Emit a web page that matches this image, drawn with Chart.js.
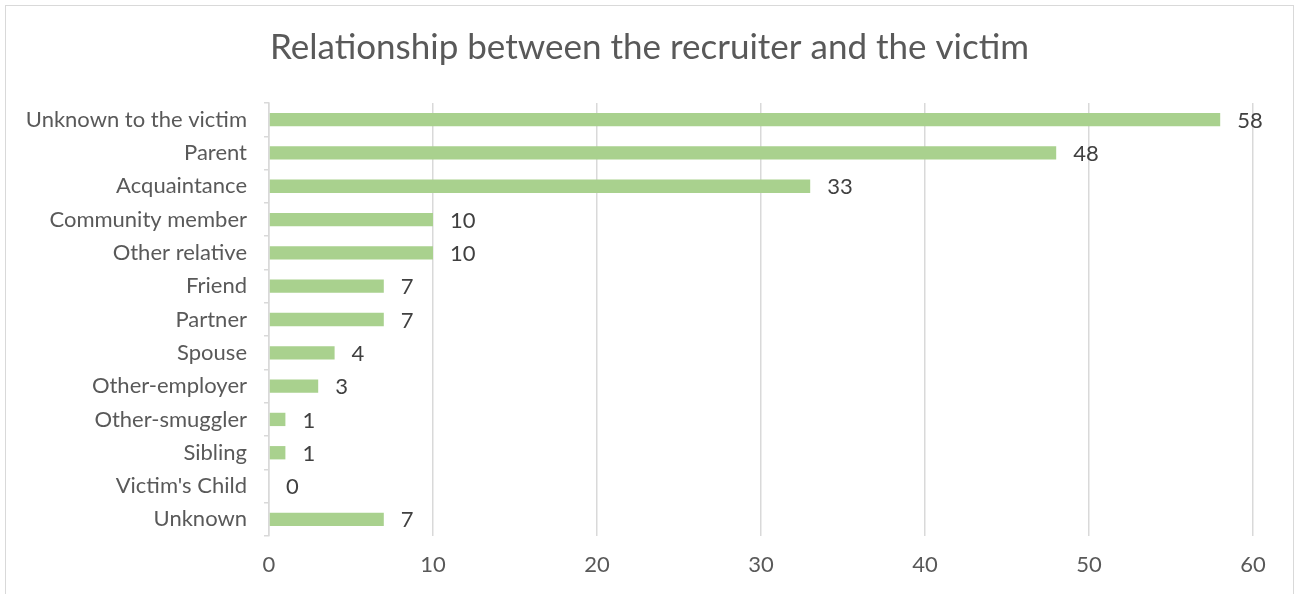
<!DOCTYPE html>
<html>
<head>
<meta charset="utf-8">
<script src="https://cdn.jsdelivr.net/npm/chart.js@4"></script>
<style>
  html, body { margin: 0; padding: 0; background: #ffffff; }
  #wrap { position: relative; width: 1299px; height: 594px; }
  #frame {
    position: absolute; left: 5px; top: 5px; width: 1287px; height: 600px;
    border: 1px solid #d9d9d9; pointer-events: none;
  }
</style>
</head>
<body>
<div id="wrap">
  <canvas id="relationCanvas" width="1299" height="594"></canvas>
  <div id="frame"></div>
</div>
<script>
// Recruiter relationship categories, top to bottom
const relationships = [
    "Unknown to the victim", "Parent", "Acquaintance", "Community member",
    "Other relative", "Friend", "Partner", "Spouse", "Other-employer",
    "Other-smuggler", "Sibling", "Victim's Child", "Unknown"
];
// Number of cases per relationship
const caseCounts = [58, 48, 33, 10, 10, 7, 7, 4, 3, 1, 1, 0, 7];
// Horizontal axis ticks
const axisTicks = [0, 10, 20, 30, 40, 50, 60];

const chartTitle = 'Relationship between the recruiter and the victim';
const textGrey = '#595959';

// Title centred across the whole canvas, not just the padded area
const centredTitle = {
    id: 'centredTitle',
    afterDraw(chart) {
        const ctx = chart.ctx;
        ctx.save();
        ctx.font = '35px Lato';
        ctx.fillStyle = textGrey;
        ctx.textAlign = 'center';
        ctx.textBaseline = 'middle';
        ctx.fillText(chartTitle, chart.width / 2, 48);
        ctx.restore();
    }
};

// Writes each count just past the end of its bar
const valueLabels = {
    id: 'valueLabels',
    afterDatasetsDraw(chart) {
        const ctx = chart.ctx;
        const meta = chart.getDatasetMeta(0);
        ctx.save();
        ctx.font = '22px Lato';
        ctx.fillStyle = '#404040';
        ctx.textAlign = 'left';
        ctx.textBaseline = 'middle';
        meta.data.forEach((bar, i) => {
            ctx.fillText(String(caseCounts[i]), bar.x + 17, bar.y + 1);
        });
        ctx.restore();
    }
};

const ctx = document.getElementById('relationCanvas').getContext('2d');

let relationChart = new Chart(ctx, {
    type: 'bar',
    data: {
        labels: relationships,
        datasets: [{
            data: caseCounts,
            backgroundColor: '#a9d18e',
            borderWidth: 0,
            barPercentage: 0.4,
            categoryPercentage: 1
        }]
    },
    options: {
        indexAxis: 'y',
        responsive: false,
        animation: false,
        layout: {
            padding: { left: 0, right: 46, top: 103, bottom: 0 }
        },
        scales: {
            x: {
                min: 0,
                max: 60,
                afterBuildTicks: (scale) => {
                    scale.ticks = axisTicks.map(v => ({ value: v }));
                },
                afterFit: (scale) => { scale.height = 58; },
                grid: { color: '#d9d9d9', lineWidth: 1.5, drawTicks: false },
                border: { display: false },
                ticks: {
                    color: textGrey,
                    font: { family: 'Lato', size: 22 },
                    padding: 16
                }
            },
            y: {
                afterFit: (scale) => { scale.width = 269; },
                grid: {
                    drawOnChartArea: false,
                    drawTicks: true,
                    tickLength: 5,
                    color: '#d9d9d9',
                    lineWidth: 1.5
                },
                border: { display: true, color: '#d9d9d9', width: 1.5 },
                ticks: {
                    color: textGrey,
                    font: { family: 'Lato', size: 22 },
                    padding: 17,
                    autoSkip: false
                }
            }
        },
        plugins: {
            legend: { display: false },
            tooltip: { enabled: false },
            title: { display: false }
        }
    },
    plugins: [valueLabels, centredTitle]
});
</script>
</body>
</html>
